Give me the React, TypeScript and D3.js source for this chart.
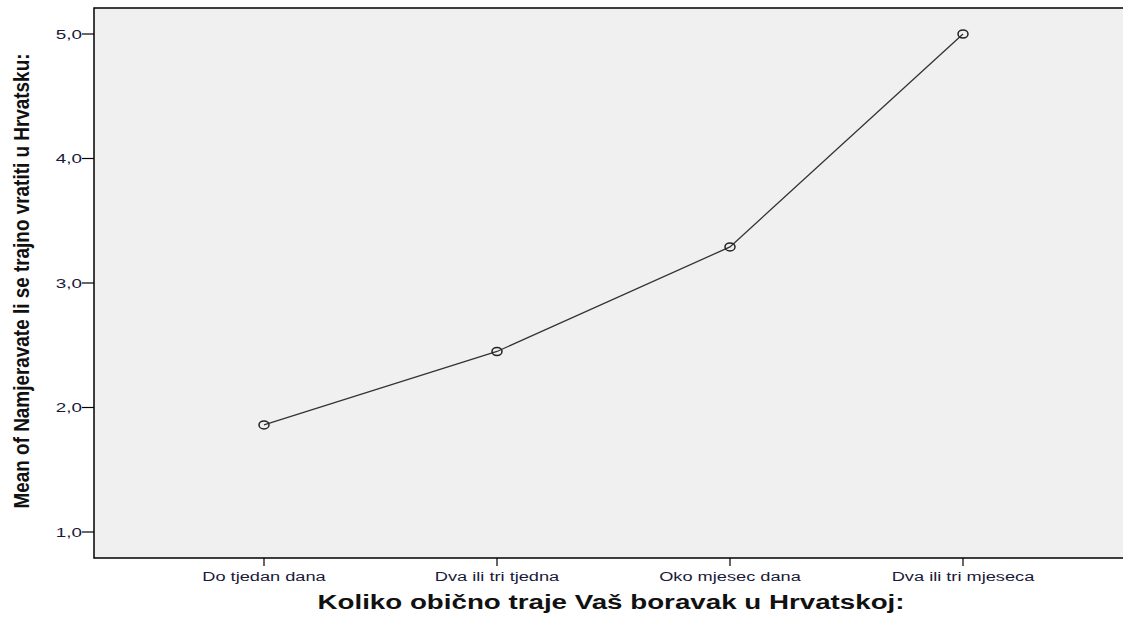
import React from "react";
import * as d3 from "d3";

const categories = ["Do tjedan dana", "Dva ili tri tjedna", "Oko mjesec dana", "Dva ili tri mjeseca"];
const meanValues = [1.86, 2.45, 3.29, 5.0];
const yTicks = [1, 2, 3, 4, 5];
const yTitle = "Mean of Namjeravate li se trajno vratiti u Hrvatsku:";
const xTitle = "Koliko obično traje Vaš boravak u Hrvatskoj:";

export default function App() {
  const W = 1123, H = 617;
  const left = 94, top = 8, bottom = 558, right = W;
  const y = d3.scaleLinear().domain([1, 5]).range([532, 34]);
  const x = d3.scalePoint<string>().domain(categories).range([264, 963]);
  const line = d3.line<number>()
    .x((_, i) => x(categories[i]) as number)
    .y((d) => y(d));
  const fmt = (v: number) => v.toFixed(1).replace(".", ",");
  const font = "Liberation Sans, Arial, sans-serif";
  return (
    <div style={{ position: "absolute", left: 0, top: 0, width: W, height: H, overflow: "hidden" }}>
      <svg width={W} height={H} style={{ display: "block", background: "#fff" }} fontFamily={font}>
        <rect x={left} y={top} width={right - left} height={bottom - top} fill="#f0f0f0" />
        <path d={`M${right},${top}H${left}V${bottom}H${right}`} fill="none" stroke="#000" strokeWidth={1.5} />
        {yTicks.map((t) => (
          <g key={t}>
            <line x1={left - 12} x2={left} y1={y(t)} y2={y(t)} stroke="#000" strokeWidth={1.2} />
            <text transform={`translate(${left - 12},${y(t)}) scale(1.45,1)`} dy="0.35em" textAnchor="end" fontSize={13} fill="#1a1a3a">{fmt(t)}</text>
          </g>
        ))}
        {categories.map((c) => (
          <g key={c}>
            <line x1={x(c)} x2={x(c)} y1={bottom} y2={bottom + 8} stroke="#000" strokeWidth={1.2} />
            <text transform={`translate(${x(c)},${bottom + 23}) scale(1.35,1)`} textAnchor="middle" fontSize={13.5} fill="#1a1a3a">{c}</text>
          </g>
        ))}
        <path d={line(meanValues) || ""} fill="none" stroke="#333" strokeWidth={1.3} />
        {meanValues.map((v, i) => (
          <ellipse key={i} cx={x(categories[i])} cy={y(v)} rx={5} ry={4} fill="none" stroke="#222" strokeWidth={1.5} />
        ))}
        <text transform="translate(29,281) scale(1.4,1) rotate(-90)" textAnchor="middle" fontSize={16} fontWeight="bold" fill="#111" textLength={455} lengthAdjust="spacingAndGlyphs">{yTitle}</text>
        <text x={611} y={609} textAnchor="middle" fontSize={20} fontWeight="bold" fill="#111" textLength={587} lengthAdjust="spacingAndGlyphs">{xTitle}</text>
      </svg>
    </div>
  );
}
